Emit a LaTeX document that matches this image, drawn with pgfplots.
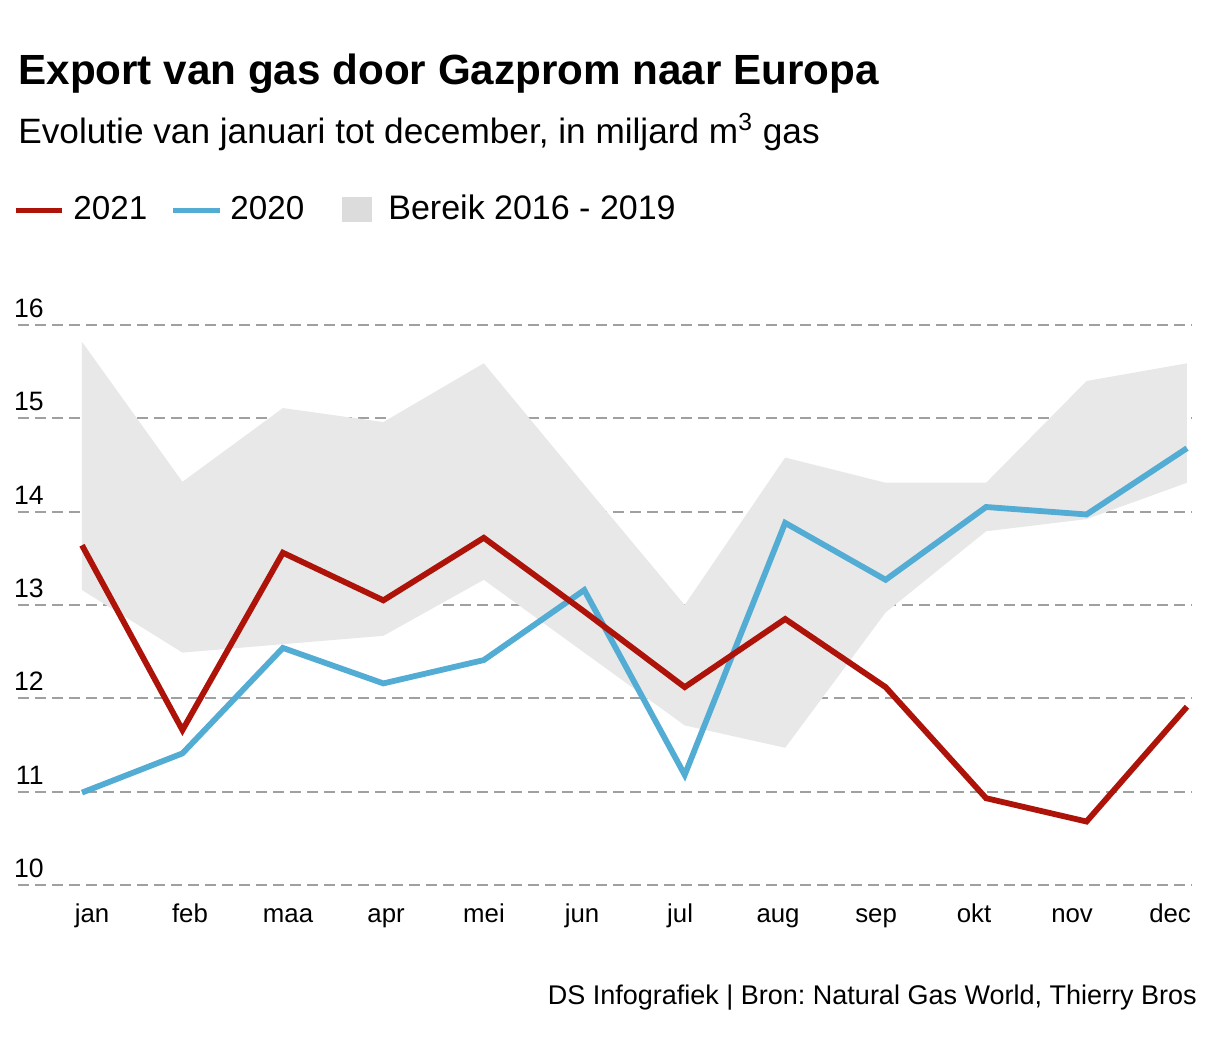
\documentclass[border=0pt]{standalone}
\usepackage{fontspec}
\setmainfont{Liberation Sans}
\usepackage{pgfplots}
\pgfplotsset{compat=1.18}
\frenchspacing
\definecolor{red21}{HTML}{AE1309}
\definecolor{blue20}{HTML}{52ACD3}
\definecolor{rangefill}{HTML}{E8E8E8}
\definecolor{legfill}{HTML}{DCDCDC}
\definecolor{gridgray}{HTML}{A0A0A0}
\begin{document}
\frenchspacing
\begin{tikzpicture}
\path[use as bounding box] (0,0) rectangle (603pt,-531.5pt);
% titles
\node[anchor=base west, inner sep=0pt, font=\fontsize{21.1pt}{24pt}\selectfont\bfseries] at (9pt,-42.5pt) {Export van gas door Gazprom naar Europa};
\node[anchor=base west, inner sep=0pt, font=\fontsize{17.6pt}{20pt}\selectfont] at (9pt,-71.75pt) {Evolutie van januari tot december, in miljard m\textsuperscript{3} gas};
% legend
\draw[red21, line width=2.6pt] (8pt,-105.4pt) -- (31pt,-105.4pt);
\node[anchor=base west, inner sep=0pt, font=\fontsize{16.6pt}{20pt}\selectfont] at (36.5pt,-110pt) {2021};
\draw[blue20, line width=2.6pt] (86.5pt,-105.4pt) -- (110pt,-105.4pt);
\node[anchor=base west, inner sep=0pt, font=\fontsize{16.6pt}{20pt}\selectfont] at (115pt,-110pt) {2020};
\fill[legfill] (171pt,-98.5pt) rectangle (186pt,-111pt);
\node[anchor=base west, inner sep=0pt, font=\fontsize{17pt}{20pt}\selectfont] at (194pt,-110pt) {Bereik 2016 - 2019};
% footer
\node[anchor=base east, inner sep=0pt, font=\fontsize{13.5pt}{16pt}\selectfont] at (598.5pt,-502pt) {DS Infografiek | Bron: Natural Gas World, Thierry Bros};
\begin{axis}[
  at={(9pt,-442.5pt)}, anchor=south west,
  scale only axis, width=587pt, height=280pt,
  xmin=-0.637, xmax=11.05, ymin=10, ymax=16,
  axis line style={draw=none}, major tick length=0pt,
  ytick={10,11,12,13,14,15,16},
  ymajorgrids,
  grid style={gridgray, line width=1pt, dash pattern=on 5.5pt off 3pt},
  xtick={0.100,1.075,2.051,3.027,4.002,4.978,5.954,6.929,7.905,8.880,9.856,10.832},
  xticklabels={jan,feb,maa,apr,mei,jun,jul,aug,sep,okt,nov,dec},
  xticklabel style={anchor=base, inner sep=0pt, yshift=-18.5pt, font=\fontsize{12.9pt}{15pt}\selectfont},
  yticklabel style={anchor=south east, inner sep=0pt, xshift=13pt, yshift=3.5pt, font=\fontsize{13.3pt}{15pt}\selectfont},
  /pgf/number format/assume math mode=true,
  clip=false,
  line join=miter,
]
% range 2016-2019: upper then lower reversed
\addplot[fill=rangefill, draw=none] coordinates {
 (0,15.82) (1,14.32) (2,15.11) (3,14.96) (4,15.59) (5,14.29) (6,13.00) (7,14.58) (8,14.31) (9,14.31) (10,15.40) (11,15.59)
 (11,14.31) (10,13.92) (9,13.79) (8,12.92) (7,11.47) (6,11.71) (5,12.49) (4,13.27) (3,12.67) (2,12.58) (1,12.49) (0,13.16)
} -- cycle;
% 2020
\addplot[blue20, line width=2.9pt] coordinates {
 (0,10.99) (1,11.41) (2,12.54) (3,12.16) (4,12.41) (5,13.16) (6,11.18) (7,13.88) (8,13.27) (9,14.05) (10,13.97) (11,14.68)
};
% 2021
\addplot[red21, line width=2.9pt] coordinates {
 (0,13.64) (1,11.66) (2,13.56) (3,13.05) (4,13.72) (5,12.93) (6,12.12) (7,12.85) (8,12.12) (9,10.93) (10,10.68) (11,11.91)
};
\end{axis}
\end{tikzpicture}
\end{document}
